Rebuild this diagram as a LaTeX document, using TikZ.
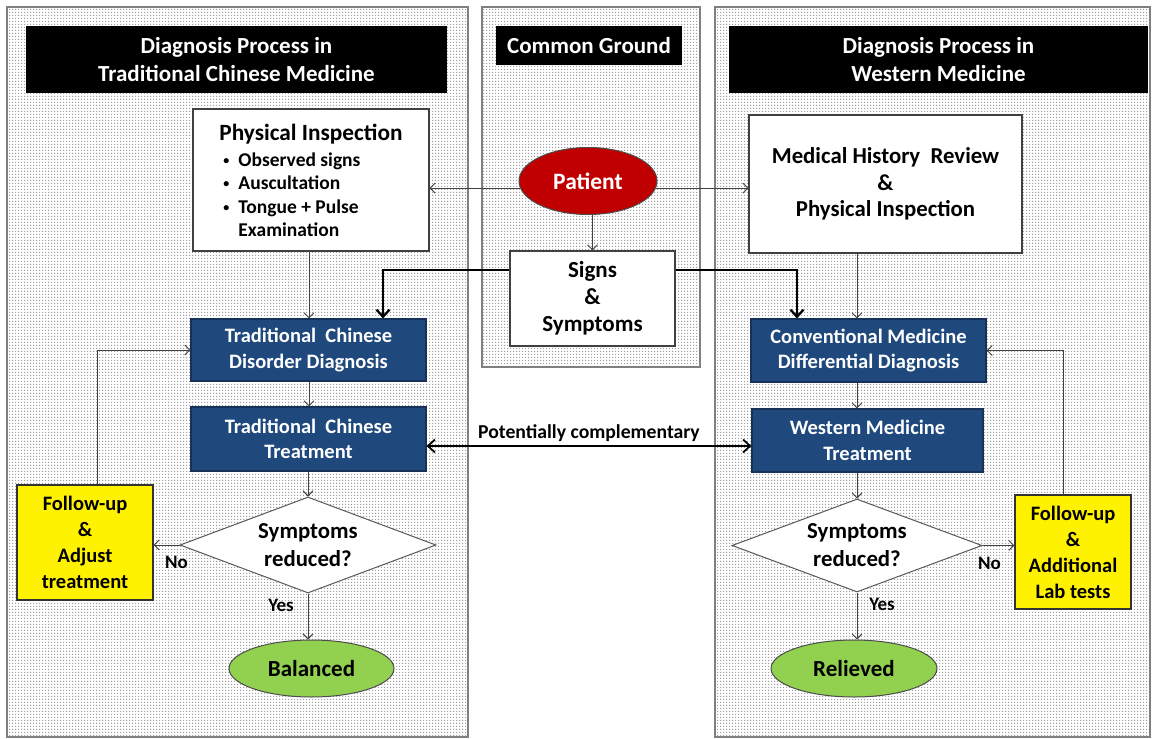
\documentclass[tikz,border=0pt]{standalone}
\usepackage{fontspec}
\setmainfont{Carlito}
\usetikzlibrary{arrows.meta,shapes.geometric,patterns.meta,calc}
\pgfdeclarepattern{
  name=fdots,
  type=uncolored,
  bottom left={\pgfpoint{0pt}{0pt}},
  top right={\pgfpoint{3pt}{3pt}},
  tile size={\pgfpoint{3pt}{3pt}},
  code={\pgfpathrectangle{\pgfpointorigin}{\pgfpoint{1.5pt}{1.5pt}}\pgfusepath{fill}}
}
\definecolor{tcmblue}{RGB}{31,73,125}
\definecolor{tcmedge}{RGB}{22,50,88}
\definecolor{patred}{RGB}{192,0,0}
\definecolor{okgreen}{RGB}{146,208,80}
\definecolor{panelgray}{RGB}{128,128,128}
\newcommand{\smbul}{\raisebox{2pt}{\fontsize{12}{12}\selectfont\textbullet}}
\begin{document}
\begin{tikzpicture}[x=1pt,y=-1pt,
  panel/.style={draw=panelgray, line width=1.2pt, preaction={fill=white}, pattern=fdots, pattern color=black!38},
  titlebox/.style={fill=black, text=white, align=center, inner sep=0pt,
     font=\fontsize{23}{28}\selectfont\bfseries},
  whitebox/.style={draw=black!75, line width=1.1pt, fill=white, align=center, inner sep=0pt,
     font=\fontsize{23}{27}\selectfont\bfseries},
  bluebox/.style={draw=tcmedge, line width=1.2pt, fill=tcmblue, text=white, align=center, inner sep=0pt,
     font=\fontsize{20.5}{25.5}\selectfont\bfseries},
  yellowbox/.style={draw=black!80, line width=1.1pt, fill=yellow, align=center, inner sep=0pt,
     font=\fontsize{20.5}{26}\selectfont\bfseries},
  decision/.style={diamond, draw=black!65, line width=1pt, fill=white, align=center, inner sep=0pt,
     font=\fontsize{22.8}{28}\selectfont\bfseries},
  endnode/.style={ellipse, draw=black!70, line width=1pt, fill=okgreen, inner sep=0pt,
     font=\fontsize{23}{26}\selectfont\bfseries},
  arr/.style={draw=black!75, line width=0.9pt, -{Straight Barb[length=5pt,width=10pt]}},
  thickarr/.style={draw=black, line width=2.3pt, -{Straight Barb[length=7pt,width=13pt]}},
  lbl/.style={font=\fontsize{19}{21}\selectfont\bfseries, inner sep=0pt}
]
\useasboundingbox (0,0) rectangle (1152,739);
\fill[white] (0,0) rectangle (1152,739);

% panels
\draw[panel] (7,7) rectangle (468,737);
\draw[panel] (482,7) rectangle (700,367);
\draw[panel] (715,7) rectangle (1150,737);

% titles
\node[titlebox, minimum width=421pt, minimum height=67pt] (tL) at (236.5,59.5) {Diagnosis Process in\\Traditional Chinese Medicine};
\node[titlebox, minimum width=186pt, minimum height=39pt] (tM) at (589,45.5) {Common Ground};
\node[titlebox, minimum width=419pt, minimum height=67pt] (tR) at (938.5,59.5) {Diagnosis Process in\\Western Medicine};

% common ground
\node[ellipse, fill=patred, draw=black!70, line width=1pt, minimum width=138pt, minimum height=67pt, inner sep=0pt,
      text=white, font=\fontsize{23.5}{26}\selectfont\bfseries] (patient) at (588,181) {Patient};
\node[whitebox, minimum width=165pt, minimum height=95pt] (signs) at (592.5,298.5) {Signs\\\&\\Symptoms};

% left column
\node[whitebox, minimum width=236pt, minimum height=142pt] (pinsp) at (311,180)
  {\rule{0pt}{24pt}{\fontsize{23.3}{26}\selectfont Physical Inspection}\\[5pt]
   {\fontsize{19.5}{23.3}\selectfont\begin{tabular}{@{}l@{\hspace{9pt}}l@{}}
   \smbul & Observed signs\\
   \smbul & Auscultation\\
   \smbul & Tongue + Pulse\\
   & Examination
   \end{tabular}}\hspace*{38pt}};
\node[bluebox, minimum width=235pt, minimum height=62pt] (tcdiag) at (308.5,350) {Traditional\ \ Chinese\\Disorder Diagnosis};
\node[bluebox, minimum width=235pt, minimum height=64pt] (tctreat) at (308.5,439) {Traditional\ \ Chinese\\Treatment};
\node[decision, aspect=2.67, minimum width=256pt, minimum height=96pt] (decL) at (308,545) {Symptoms\\reduced?};
\node[yellowbox, minimum width=136pt, minimum height=115pt] (fuL) at (85,542.5) {Follow-up\\\&\\Adjust\\treatment};
\node[endnode, minimum width=165pt, minimum height=57pt] (balanced) at (311.5,668.5) {Balanced};

% right column
\node[whitebox, minimum width=273pt, minimum height=138pt, font=\fontsize{22.8}{26.5}\selectfont\bfseries] (mh) at (885.5,184)
  {Medical History\ \ Review\\\&\\Physical Inspection};
\node[bluebox, minimum width=235pt, minimum height=63pt] (cmdiag) at (868.5,350.5) {Conventional Medicine\\Differential Diagnosis};
\node[bluebox, minimum width=231pt, minimum height=63pt] (wmtreat) at (867.5,440.5) {Western Medicine\\Treatment};
\node[decision, aspect=2.69, minimum width=250pt, minimum height=93pt] (decR) at (857,545.5) {Symptoms\\reduced?};
\node[yellowbox, minimum width=116pt, minimum height=114pt] (fuR) at (1073,552) {Follow-up\\\&\\Additional\\Lab tests};
\node[endnode, minimum width=166pt, minimum height=57pt] (relieved) at (854,668.5) {Relieved};

\coordinate (lx) at (309,0);
\coordinate (rx) at (857,0);

% patient connectors
\draw[arr] (patient.186) -- (patient.186 -| pinsp.east);
\draw[arr] (patient.354) -- (patient.354 -| mh.west);
\draw[arr] (signs.north |- patient.south) -- (signs.north);

% signs to diagnoses (thick)
\draw[thickarr] ([yshift=28.5pt]signs.west) -| ([xshift=74.5pt]tcdiag.north);
\draw[thickarr] ([yshift=28.5pt]signs.east) -| ([xshift=-71.5pt]cmdiag.north);

% left flow
\draw[arr] (lx |- pinsp.south) -- (lx |- tcdiag.north);
\draw[arr] (lx |- tcdiag.south) -- (lx |- tctreat.north);
\draw[arr] (decL.north |- tctreat.south) -- (decL.north);
\draw[arr] (decL.south) -- (decL.south |- balanced.north);
\node[lbl] (yesL) at ($(decL.south)+(-27,12)$) {Yes};
\draw[arr] (decL.west) -- (decL.west -| fuL.east);
\node[lbl] (noL) at ($(decL.west)+(-3,17)$) {No};
\draw[arr] ([xshift=12pt]fuL.north) |- (tcdiag.west);

% right flow
\draw[arr] (rx |- mh.south) -- (rx |- cmdiag.north);
\draw[arr] (rx |- cmdiag.south) -- (rx |- wmtreat.north);
\draw[arr] (rx |- wmtreat.south) -- (rx |- decR.north);
\draw[arr] (decR.south) -- (decR.south |- relieved.north);
\node[lbl] (yesR) at ($(decR.south)+(25,12)$) {Yes};
\draw[arr] (decR.east) -- (decR.east -| fuR.west);
\node[lbl] (noR) at ($(decR.east)+(7,18)$) {No};
\draw[arr] ([xshift=-10pt]fuR.north) |- (cmdiag.east);

% complementary
\draw[thickarr, {Straight Barb[length=7pt,width=13pt]}-{Straight Barb[length=7pt,width=13pt]}, line width=1.8pt]
  ([yshift=-7pt]tctreat.east) -- ([yshift=-7pt]tctreat.east -| wmtreat.west)
  node[midway, above=4pt, font=\fontsize{19.7}{22}\selectfont\bfseries, inner sep=0pt] {Potentially complementary};
\end{tikzpicture}
\end{document}
